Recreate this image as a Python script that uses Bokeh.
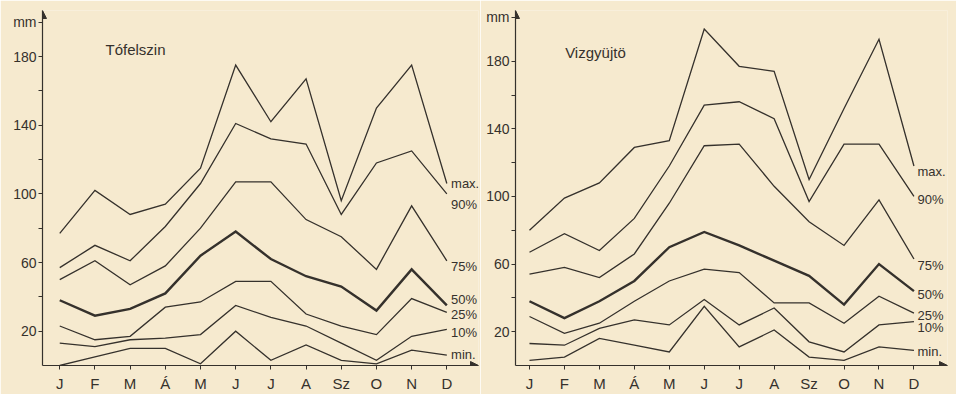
from bokeh.plotting import figure
from bokeh.layouts import row
from bokeh.models import FixedTicker, Label, Arrow, NormalHead, Range1d
from bokeh.embed import file_html
from bokeh.resources import INLINE

months = ["J", "F", "M", "Á", "M", "J", "J", "A", "Sz", "O", "N", "D"]
series_names = ["max.", "90%", "75%", "50%", "25%", "10%", "min."]

# Tófelszin (lake surface)
lake_max = [77, 102, 88, 94, 115, 175, 142, 167, 96, 150, 175, 106]
lake_p90 = [57, 70, 61, 81, 106, 141, 132, 129, 88, 118, 125, 100]
lake_p75 = [50, 61, 47, 58, 80, 107, 107, 85, 75, 56, 93, 61]
lake_p50 = [38, 29, 33, 42, 64, 78, 62, 52, 46, 32, 56, 35]
lake_p25 = [23, 15, 17, 34, 37, 49, 49, 30, 23, 18, 39, 31]
lake_p10 = [13, 11, 15, 16, 18, 35, 28, 23, 13, 3, 17, 21]
lake_min = [0, 5, 10, 10, 1, 20, 3, 12, 3, 1, 9, 6]

# Vizgyüjtö (catchment)
catch_max = [80, 99, 108, 129, 133, 199, 177, 174, 110, 152, 193, 118]
catch_p90 = [67, 78, 68, 87, 118, 154, 156, 146, 97, 131, 131, 100]
catch_p75 = [54, 58, 52, 66, 96, 130, 131, 106, 85, 71, 98, 63]
catch_p50 = [38, 28, 38, 50, 70, 79, 71, 62, 53, 36, 60, 44]
catch_p25 = [29, 19, 25, 38, 50, 57, 55, 37, 37, 25, 41, 31]
catch_p10 = [13, 12, 22, 27, 24, 39, 24, 34, 14, 8, 24, 26]
catch_min = [3, 5, 16, 12, 8, 35, 11, 21, 5, 3, 11, 9]

BG = "#f6eacf"
INK = "#35312c"
FONT = "Liberation Sans"


def panel(series, title, width, borders, xr, yr, title_pos, label_x, label_ys, mm_tick):
    left, right, top, bottom = borders
    p = figure(width=width, height=394, output_backend="svg", toolbar_location=None,
               x_range=Range1d(*xr), y_range=Range1d(*yr))
    p.min_border_left = left
    p.min_border_right = right
    p.min_border_top = top
    p.min_border_bottom = bottom
    p.background_fill_color = BG
    p.border_fill_color = BG
    p.outline_line_color = None
    p.grid.visible = False

    xs = list(range(len(months)))
    for i, ys in enumerate(series):
        p.line(xs, ys, line_color=INK, line_width=2.4 if i == 3 else 1.3, line_join="miter")

    for ax in (p.xaxis[0], p.yaxis[0]):
        ax.axis_line_color = INK
        ax.axis_line_width = 1.2
        ax.major_tick_line_color = INK
        ax.minor_tick_line_color = INK
        ax.major_tick_in = 0
        ax.major_tick_out = 4
        ax.minor_tick_in = 0
        ax.minor_tick_out = 4
        ax.major_label_text_color = INK
        ax.major_label_text_font = FONT

    p.yaxis.ticker = FixedTicker(ticks=[20, 60, 100, 140, 180, mm_tick],
                                 minor_ticks=[40, 80, 120, 160])
    p.yaxis.major_label_overrides = {mm_tick: "mm"}
    p.yaxis.major_label_text_font_size = "14px"
    p.yaxis.major_label_standoff = 2

    p.xaxis.ticker = FixedTicker(ticks=xs, minor_ticks=[])
    p.xaxis.major_label_overrides = {i: m for i, m in enumerate(months)}
    p.xaxis.major_label_text_font_size = "15px"
    p.xaxis.major_label_standoff = 5

    head = dict(size=8, fill_color=INK, line_color=INK)
    p.add_layout(Arrow(end=NormalHead(**head), x_start=xr[0], y_start=yr[1] - 8,
                       x_end=xr[0], y_end=yr[1], line_alpha=0))
    p.add_layout(Arrow(end=NormalHead(**head), x_start=xr[1] - 0.3, y_start=0,
                       x_end=xr[1], y_end=0, line_alpha=0))

    p.add_layout(Label(x=title_pos[0], y=title_pos[1], text=title, text_font=FONT,
                       text_font_size="15px", text_color=INK, text_baseline="middle"))
    for name, ly in zip(series_names, label_ys):
        p.add_layout(Label(x=label_x, y=ly, text=name, text_font=FONT,
                           text_font_size="13px", text_color=INK, text_baseline="middle"))
    return p


p1 = panel([lake_max, lake_p90, lake_p75, lake_p50, lake_p25, lake_p10, lake_min],
           "Tófelszin", 480, (42, 2, 10, 29), (-0.49, 11.9), (0, 206.8),
           (1.3, 184), 11.12, [106, 94, 57.5, 38.5, 30, 19.5, 6.3], 200)
p2 = panel([catch_max, catch_p90, catch_p75, catch_p50, catch_p25, catch_p10, catch_min],
           "Vizgyüjtö", 476, (35, 9, 9, 28), (-0.4, 11.96), (0, 210),
           (1.02, 185), 11.1, [115, 98, 59, 42, 29.5, 22.5, 8], 206)

layout = row(p1, p2)
open("out.html", "w").write(file_html(layout, INLINE))
